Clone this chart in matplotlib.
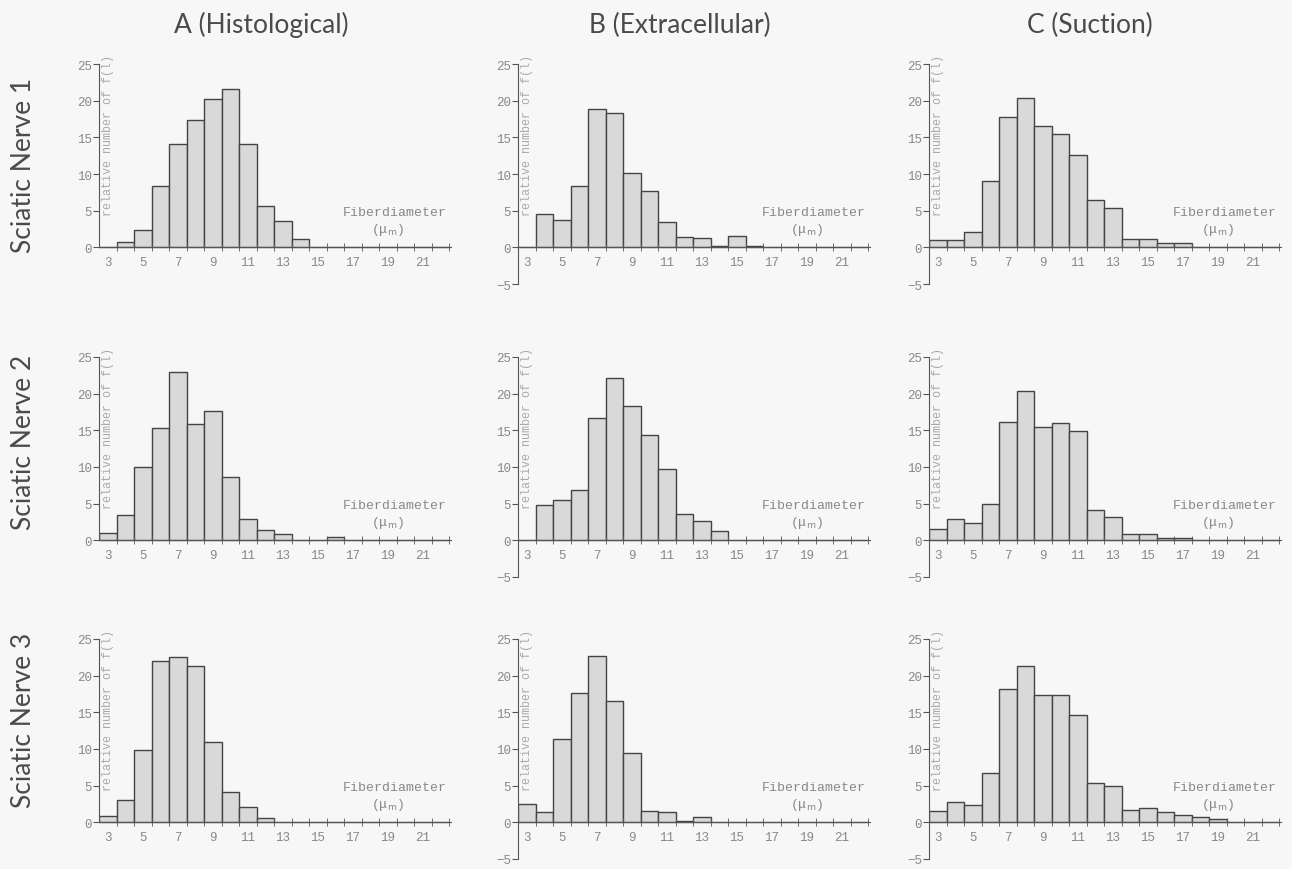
import matplotlib.pyplot as plt
import numpy as np

# bin centres (fiber diameter, um) and relative number per bin
bins = list(range(3, 23))

a1 = [0, 0.7, 2.4, 8.3, 14.1, 17.3, 20.2, 21.6, 14.1, 5.6, 3.6, 1.1, 0, 0, 0, 0, 0, 0, 0, 0]
b1 = [0, 4.5, 3.7, 8.3, 18.9, 18.3, 10.1, 7.7, 3.5, 1.35, 1.25, 0.25, 1.5, 0.2, 0, 0, 0, 0, 0, 0]
c1 = [1.0, 1.0, 2.1, 9.1, 17.8, 20.4, 16.6, 15.5, 12.6, 6.5, 5.3, 1.2, 1.2, 0.6, 0.6, 0, 0, 0, 0, 0]
a2 = [1.05, 3.4, 10.0, 15.3, 22.9, 15.8, 17.6, 8.7, 2.95, 1.45, 0.9, 0, 0, 0.4, 0, 0, 0, 0, 0, 0]
b2 = [0, 4.8, 5.45, 6.9, 16.7, 22.2, 18.3, 14.4, 9.7, 3.55, 2.6, 1.3, 0, 0, 0, 0, 0, 0, 0, 0]
c2 = [1.5, 2.9, 2.4, 5.0, 16.1, 20.3, 15.5, 16.0, 14.9, 4.2, 3.2, 0.8, 0.8, 0.35, 0.35, 0, 0, 0, 0, 0]
a3 = [0.9, 3.0, 9.9, 22.0, 22.5, 21.3, 10.9, 4.2, 2.1, 0.55, 0, 0, 0, 0, 0, 0, 0, 0, 0, 0]
b3 = [2.5, 1.4, 11.4, 17.6, 22.7, 16.5, 9.5, 1.6, 1.35, 0.15, 0.7, 0, 0, 0, 0, 0, 0, 0, 0, 0]
c3 = [1.6, 2.8, 2.35, 6.75, 18.2, 21.3, 17.4, 17.4, 14.6, 5.4, 4.95, 1.7, 2.0, 1.4, 1.0, 0.75, 0.4, 0, 0, 0]

data = [[a1, b1, c1], [a2, b2, c2], [a3, b3, c3]]
col_titles = ['A (Histological)', 'B (Extracellular)', 'C (Suction)']
row_titles = ['Sciatic Nerve 1', 'Sciatic Nerve 2', 'Sciatic Nerve 3']
xlabels = [3, 5, 7, 9, 11, 13, 15, 17, 19, 21]

W, H = 1292, 870
bg = '#f7f7f7'
mono = ['Liberation Mono', 'DejaVu Sans Mono']
head_font = ['Lato', 'DejaVu Sans']

fig = plt.figure(figsize=(W / 100, H / 100), dpi=100, facecolor=bg)

# pixel positions of axes (left of y axis, top at y=25)
col_x = [99, 518, 929]
row_top = [65, 358, 640]
ax_w = 352
ax_h = 220

for r in range(3):
    for c in range(3):
        left = col_x[c] / W
        bottom = 1 - (row_top[r] + ax_h) / H
        ax = fig.add_axes([left, bottom, ax_w / W, ax_h / H])
        ax.set_facecolor('none')
        ax.bar(bins, data[r][c], width=1.0, color='#d9d9d9', edgecolor='#444444', linewidth=1.0)
        ax.set_xlim(2.5, 22.6)
        ax.set_ylim(-5, 25)

        for s in ['top', 'right']:
            ax.spines[s].set_visible(False)
        ax.spines['bottom'].set_position(('data', 0))
        ax.spines['bottom'].set_color('#555555')
        ax.spines['left'].set_color('#555555')
        if c == 0:
            ax.spines['left'].set_bounds(0, 25)
            ax.set_yticks([0, 5, 10, 15, 20, 25])
        else:
            ax.spines['left'].set_bounds(-5, 25)
            ax.set_yticks([-5, 0, 5, 10, 15, 20, 25])

        ax.set_xticks(xlabels)
        ax.set_xticklabels([str(x) for x in xlabels])
        ax.set_xticks(np.arange(3.5, 23, 1.0), minor=True)
        ax.tick_params(axis='x', which='major', length=0, pad=6, labelsize=9, labelcolor='#888888')
        ax.tick_params(axis='x', which='minor', direction='inout', length=6, color='#555555')
        ax.tick_params(axis='y', direction='out', length=4, color='#555555', pad=1,
                       labelsize=9, labelcolor='#888888')
        for lab in ax.get_xticklabels() + ax.get_yticklabels():
            lab.set_family(mono)

        ax.text(3.0, 26.3, 'relative number of f(l)', rotation=90, va='top', ha='center',
                fontsize=8.5, color='#aaaaaa', family=mono)
        ax.text(19.4, 4.8, 'Fiberdiameter', ha='center', va='center',
                fontsize=9.5, color='#888888', family=mono)
        ax.text(19.0, 2.5, '(μ$_\\mathrm{m}$)', ha='center', va='center',
                fontsize=9.5, color='#888888', family=mono)

title_x = [261, 680, 1090]
for c in range(3):
    fig.text(title_x[c] / W, 1 - 25 / H, col_titles[c], ha='center', va='center',
             fontsize=19, color='#4a4a4a', family=head_font)

row_y = [165, 442, 720]
for r in range(3):
    fig.text(24 / W, 1 - row_y[r] / H, row_titles[r], ha='center', va='center', rotation=90,
             fontsize=19, color='#4a4a4a', family=head_font)

fig.savefig('out.png', dpi=100, facecolor=bg)
